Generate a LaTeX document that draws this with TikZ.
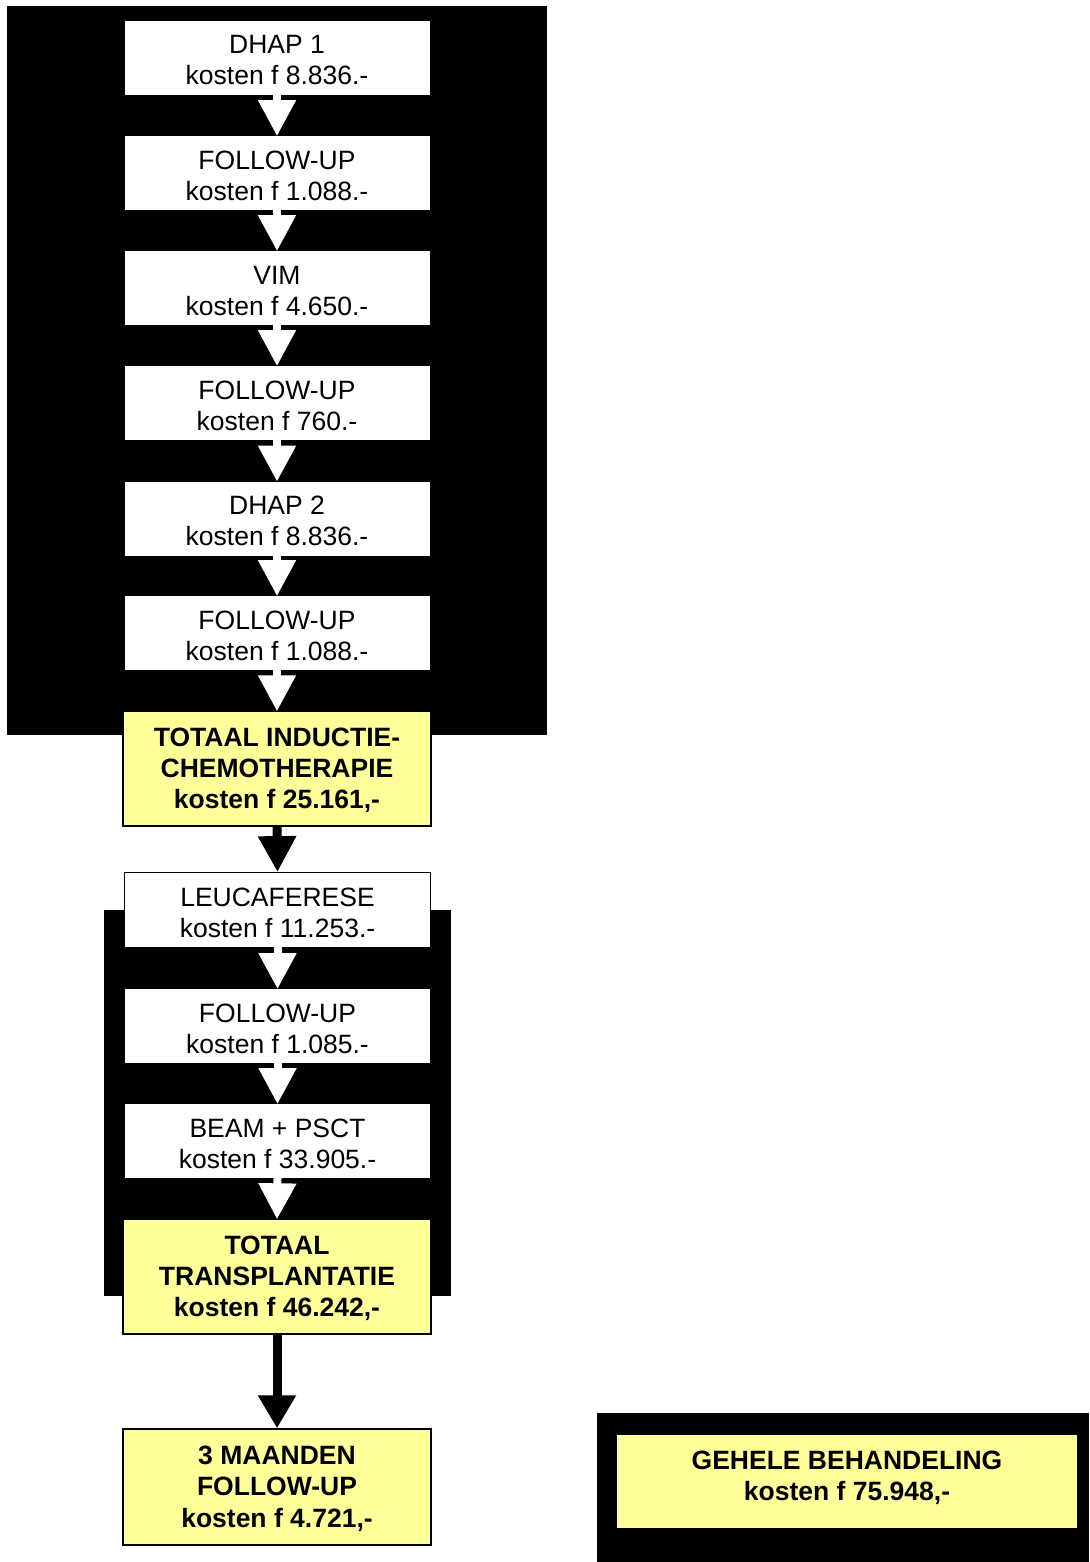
\documentclass[tikz,border=0pt]{standalone}
\usepackage{fontspec}
\setmainfont{Liberation Sans}
\usetikzlibrary{arrows.meta}
\definecolor{boxyellow}{RGB}{255,255,153}
\newcommand{\bxt}[2]{\smash{\raisebox{#1}{\begin{tabular}{@{}c@{}}#2\end{tabular}}}}
\tikzset{
  whitebox/.style={draw=black, line width=0.8pt, fill=white, minimum width=306pt, minimum height=75pt, inner sep=0pt, align=center, font=\fontsize{26.5}{31}\selectfont},
  yellowbox/.style={draw=black, line width=1.4pt, fill=boxyellow, minimum width=308pt, minimum height=115pt, inner sep=0pt, align=center, font=\fontsize{26.5}{31}\selectfont\bfseries},
  whitearrow/.style={draw=white, line width=8pt, -{Triangle[width=36pt,length=36pt]}, shorten <=-1pt, shorten >=-1pt},
  blackarrow/.style={draw=black, line width=9pt, -{Triangle[width=36pt,length=36pt]}},
  backdrop/.style={fill=black, draw=none}
}
\begin{document}
\begin{tikzpicture}[x=1pt,y=-1pt]
\useasboundingbox (0,0) rectangle (1089,1562);
% black backgrounds
\fill[backdrop] (7,6) rectangle (547,735);
\fill[backdrop] (104,910) rectangle (451,1296);
\fill[backdrop] (597,1413) rectangle (1089,1562);

\node[whitebox] (b1) at (277,57.5) {\bxt{-12pt}{DHAP 1\\kosten f 8.836.-}};
\node[whitebox] (b2) at (277,173) {\bxt{-12pt}{FOLLOW-UP\\kosten f 1.088.-}};
\node[whitebox] (b3) at (277,288) {\bxt{-12pt}{VIM\\kosten f 4.650.-}};
\node[whitebox] (b4) at (277,403) {\bxt{-12pt}{FOLLOW-UP\\kosten f 760.-}};
\node[whitebox] (b5) at (277,518.5) {\bxt{-12pt}{DHAP 2\\kosten f 8.836.-}};
\node[whitebox] (b6) at (277,633) {\bxt{-12pt}{FOLLOW-UP\\kosten f 1.088.-}};
\node[yellowbox] (y1) at (277,768.5) {\bxt{-9pt}{TOTAAL INDUCTIE-\\CHEMOTHERAPIE\\kosten f 25.161,-}};

\node[whitebox] (c1) at (277.5,910) {\bxt{-12pt}{LEUCAFERESE\\kosten f 11.253.-}};
\node[whitebox] (c2) at (277.5,1026) {\bxt{-12pt}{FOLLOW-UP\\kosten f 1.085.-}};
\node[whitebox] (c3) at (277.5,1141) {\bxt{-12pt}{BEAM + PSCT\\kosten f 33.905.-}};
\node[yellowbox] (y2) at (277,1276.5) {\bxt{-9pt}{TOTAAL\\TRANSPLANTATIE\\kosten f 46.242,-}};

\node[yellowbox, minimum height=116pt] (y3) at (277,1487) {\bxt{-9pt}{3 MAANDEN\\FOLLOW-UP\\kosten f 4.721,-}};

\node[yellowbox, draw=none, minimum width=460pt, minimum height=93pt] (y4) at (847,1481.5) {\bxt{-3.6pt}{GEHELE BEHANDELING\\kosten f 75.948,-}};

\draw[whitearrow] (b1.south) -- (b2.north);
\draw[whitearrow] (b2.south) -- (b3.north);
\draw[whitearrow] (b3.south) -- (b4.north);
\draw[whitearrow] (b4.south) -- (b5.north);
\draw[whitearrow] (b5.south) -- (b6.north);
\draw[whitearrow] (b6.south) -- (y1.north);
\draw[blackarrow] (y1.south) -- (c1.north);
\draw[whitearrow] (c1.south) -- (c2.north);
\draw[whitearrow] (c2.south) -- (c3.north);
\draw[whitearrow] (c3.south) -- (y2.north);
\draw[blackarrow, -{Triangle[width=36pt,length=33pt]}] (y2.south) -- (y3.north);
\end{tikzpicture}
\end{document}
